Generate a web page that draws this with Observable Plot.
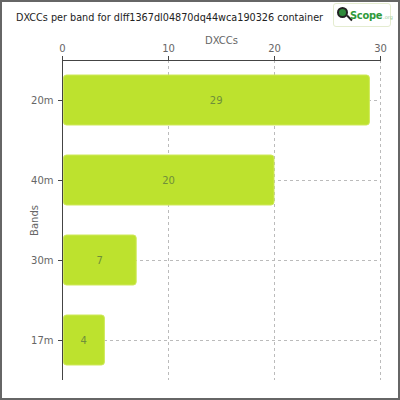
<!DOCTYPE html>
<html><head><meta charset="utf-8">
<script src="https://cdn.jsdelivr.net/npm/d3@7"></script>
<script src="https://cdn.jsdelivr.net/npm/@observablehq/plot@0.6"></script>
<style>
body{margin:0;background:#fff;}
#wrap{position:relative;width:400px;height:400px;overflow:hidden;font-family:"DejaVu Sans",sans-serif;}
#frame{position:absolute;left:0;top:0;width:400px;height:400px;box-sizing:border-box;border:2px solid #666;pointer-events:none;}
#title{height:25px;padding-top:3px;line-height:28px;padding-left:16px;font-size:13px;color:#222;white-space:nowrap;font-family:"DejaVu Sans Condensed","DejaVu Sans",sans-serif;}
#title span{display:inline-block;}
#logo{position:absolute;left:333px;top:3px;width:56px;height:22px;border:1px solid #e4ecd0;border-radius:3px;background:#fff;}
#logo .c{position:absolute;left:3px;top:3px;width:11px;height:11px;border-radius:50%;background:#2e8a3a;border:2px solid #222;box-sizing:border-box;}
#logo .h{position:absolute;left:12px;top:13px;width:7px;height:2px;background:#222;transform:rotate(45deg);}
#logo .w{position:absolute;left:16px;top:2px;white-space:nowrap;line-height:16px;}
#logo .t{font-size:11px;font-weight:bold;color:#2e9a3a;font-family:"DejaVu Sans Condensed","DejaVu Sans",sans-serif;letter-spacing:-0.3px;}
#logo .o{font-size:5px;color:#9c9;margin-left:1px;}
svg{display:block;}
</style></head>
<body>
<div id="wrap">
<div id="title"><span id="tt">DXCCs per band for dlff1367dl04870dq44wca190326 container</span></div>
<div id="logo"><div class="c"></div><div class="h"></div><div class="w"><span class="t">Scope</span><span class="o">.org</span></div></div>
<div id="chart"></div>
<div id="frame"></div>
</div>
<script>
const bands = ["20m", "40m", "30m", "17m"];
const dxccs = [29, 20, 7, 4];
const xTicks = [0, 10, 20, 30];
const data = bands.map((b, i) => ({band: b, value: dxccs[i]}));

// fit title width to reference (~311px)
const tt = document.getElementById("tt");
let fs = 13;
tt.style.fontSize = fs + "px";
while (tt.getBoundingClientRect().width > 311 && fs > 7) { fs -= 0.25; tt.style.fontSize = fs + "px"; }

const chart = Plot.plot({
  width: 400,
  height: 372,
  marginTop: 32,
  marginBottom: 20,
  marginLeft: 62,
  marginRight: 20,
  style: {fontFamily: "DejaVu Sans, sans-serif", fontSize: "10px", color: "#666", background: "#fff"},
  x: {domain: [0, 30], ticks: xTicks},
  y: {domain: bands, paddingInner: 0.375, paddingOuter: 0.1875},
  marks: [
    Plot.ruleX(xTicks.filter(d => d > 0), {stroke: "#bbb", strokeDasharray: "3,3"}),
    Plot.ruleY(bands, {y: d => d, stroke: "#bbb", strokeDasharray: "3,3"}),
    Plot.barX(data, {x1: 0, x2: "value", y: "band", fill: "#bde22e", stroke: "#cfe95a", strokeWidth: 1, rx: 3, insetLeft: 1.5}),
    Plot.text(data, {x: d => d.value / 2, y: "band", text: d => String(d.value), fill: "#6f8f3a", fontSize: 10}),
    Plot.axisX({anchor: "top", ticks: xTicks, tickSize: 5, label: "DXCCs", labelAnchor: "center", labelArrow: false, labelOffset: 24, stroke: "#444", fill: "#666"}),
    Plot.axisY({tickSize: 4, label: "Bands", labelAnchor: "center", labelArrow: false, labelOffset: 32, stroke: "#444", fill: "#666"}),
    Plot.ruleX([0], {stroke: "#444"})
  ]
});
document.getElementById("chart").appendChild(chart);
d3.select(chart).append("line").attr("x1", 62).attr("x2", 380).attr("y1", 32.5).attr("y2", 32.5).attr("stroke", "#444");
</script>
</body></html>
